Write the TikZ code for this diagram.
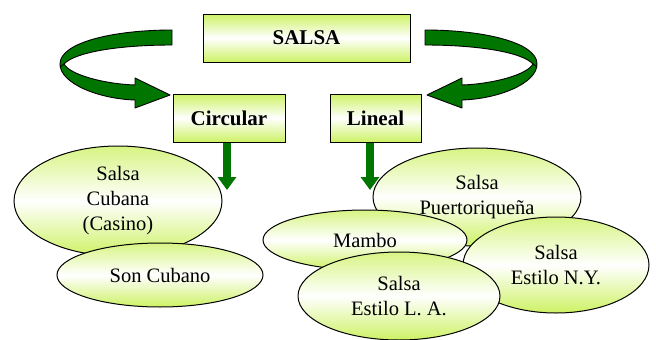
\documentclass[tikz,border=0pt]{standalone}
\usepackage{fontspec}
\setmainfont{Liberation Serif}
\usetikzlibrary{shapes.geometric,arrows.meta}
\definecolor{salsalime}{RGB}{205,242,100}
\definecolor{salsagreen}{RGB}{0,118,0}
\begin{document}
\begin{tikzpicture}
	[x=1pt,y=-1pt,
	 box/.style={rectangle,draw,line width=1pt,top color=salsalime,bottom color=salsalime,middle color=white,inner sep=0pt,font=\fontsize{21}{25}\selectfont\bfseries},
	 oval/.style={ellipse,draw,line width=1pt,top color=salsalime!80,bottom color=salsalime,middle color=white,inner sep=0pt,align=center,font=\fontsize{20.5}{25}\selectfont},
	 swirl/.style={draw,line width=0.9pt,fill=salsagreen,line join=round},
	 drop/.style={line width=8pt,draw=salsagreen,-{Triangle[width=18pt,length=13pt]}}]
    \useasboundingbox (0,0) rectangle (656,340);

    % curved arrows
    \draw[swirl] (172,30) .. controls (115,30) and (60,42) .. (60,64)
        .. controls (60,84) and (100,99) .. (135,100) -- (135,108) -- (170,95) -- (135,78) -- (135,85)
        .. controls (105,84) and (70,75) .. (64,64)
        .. controls (75,52) and (120,45) .. (172,45) -- cycle;
    \draw[line width=0.9pt] (64,64) -- (60,67);
    \draw[swirl] (425,30) .. controls (482,30) and (537,42) .. (537,64)
        .. controls (537,84) and (497,99) .. (462,100) -- (462,108) -- (427,95) -- (462,78) -- (462,85)
        .. controls (492,84) and (527,75) .. (533,64)
        .. controls (522,52) and (477,45) .. (425,45) -- cycle;
    \draw[line width=0.9pt] (533,64) -- (537,67);

    \node[box,minimum width=207pt,minimum height=48pt] (salsa) at (306.5,38) {SALSA};
    \node[box,minimum width=112pt,minimum height=48pt] (circ) at (229,118) {Circular};
    \node[box,minimum width=91pt,minimum height=48pt] (lineal) at (375.5,118) {Lineal};

    \coordinate (circend) at (227,190);
    \coordinate (linend) at (370,190);
    \draw[drop] (circ.south -| circend) -- (circend);
    \draw[drop] (lineal.south -| linend) -- (linend);

    \node[oval,minimum width=208pt,minimum height=110pt] (cubana) at (118,201) {Salsa\\Cubana\\(Casino)};
    \node[oval,minimum width=206pt,minimum height=64pt] (son) at (160,275) {Son Cubano};
    \node[oval,minimum width=208pt,minimum height=98pt] (puerto) at (477,197) {Salsa\\Puertoriqueña};
    \node[oval,minimum width=204pt,minimum height=60pt] (mambo) at (365,240) {Mambo};
    \node[oval,minimum width=186pt,minimum height=96pt] (ny) at (556,265) {Salsa\\Estilo N.Y.};
    \node[oval,minimum width=202pt,minimum height=88pt] (la) at (399,296) {Salsa\\Estilo L. A.};

\end{tikzpicture}
\end{document}
